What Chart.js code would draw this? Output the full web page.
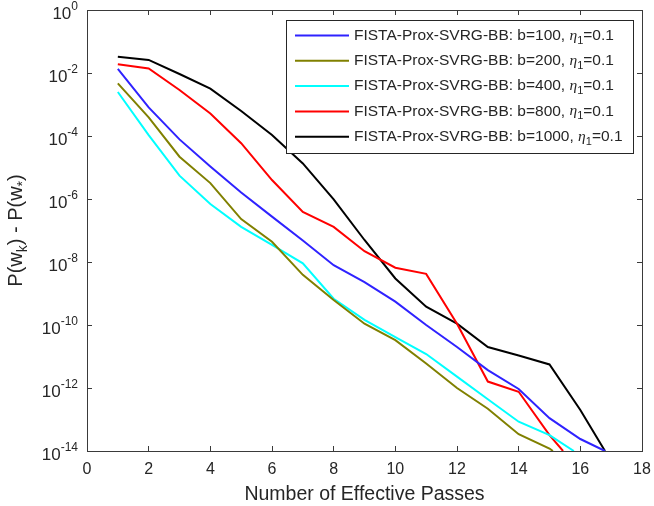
<!DOCTYPE html>
<html lang="en">
<head>
<meta charset="UTF-8">
<title>FISTA-Prox-SVRG-BB batch sizes</title>
<script src="https://cdn.jsdelivr.net/npm/chart.js"></script>
<style>
    body { margin: 0; background: #fff; }
    canvas { display: block; }
</style>
</head>
<body>
<canvas id="chart" width="654" height="506"></canvas>
<script>
    // values
    const batchSizes = [100, 200, 400, 800, 1000];
    const eta1 = '0.1';
    const colors = ['#2f22ff', '#808000', '#00ffff', '#ff0000', '#000000'];

    const passes100 = [1, 2, 3, 4, 5, 6, 7, 8, 9, 10, 11, 12, 13, 14, 15, 16, 16.8];
    const gap100 = [1.35e-2, 8.1e-4, 7.8e-5, 1.07e-5, 1.6e-6, 2.75e-7, 4.8e-8, 7.9e-9, 2.3e-9, 5.5e-10,
        1.0e-10, 2.0e-11, 3.7e-12, 9.3e-13, 1.1e-13, 2.4e-14, 1e-14];

    const passes200 = [1, 2, 3, 4, 5, 6, 7, 8, 9, 10, 11, 12, 13, 14, 15, 15.11];
    const gap200 = [4.7e-3, 3.9e-4, 2.2e-5, 3.2e-6, 2.3e-7, 4.4e-8, 3.9e-9, 6.2e-10, 1.1e-10, 3.3e-11,
        6.0e-12, 1.0e-12, 2.2e-13, 3.4e-14, 1.2e-14, 1e-14];

    const passes400 = [1, 2, 3, 4, 5, 6, 7, 8, 9, 10, 11, 12, 13, 14, 15, 15.79];
    const gap400 = [2.5e-3, 1.07e-4, 5.5e-6, 6.9e-7, 1.3e-7, 3.5e-8, 9.1e-9, 6.8e-10, 1.45e-10, 4.1e-11,
        1.2e-11, 2.3e-12, 4.4e-13, 8.5e-14, 3.2e-14, 1e-14];

    const passes800 = [1, 2, 3, 4, 5, 6, 7, 8, 9, 10, 11, 12, 13, 14, 15, 15.44];
    const gap800 = [1.9e-2, 1.4e-2, 2.9e-3, 5.2e-4, 5.9e-5, 4.0e-6, 3.9e-7, 1.3e-7, 2.2e-8, 6.6e-9,
        4.2e-9, 1.1e-10, 1.6e-12, 7.6e-13, 3.2e-14, 1e-14];

    const passes1000 = [1, 2, 3, 4, 5, 6, 7, 8, 9, 10, 11, 12, 13, 14, 15, 16, 16.8];
    const gap1000 = [3.3e-2, 2.6e-2, 9.3e-3, 3.2e-3, 6.2e-4, 1.07e-4, 1.35e-5, 9.8e-7, 5.0e-8, 3.0e-9,
        3.8e-10, 1.1e-10, 2.0e-11, 1.07e-11, 5.6e-12, 2.0e-13, 1e-14];

    const xTicks = [0, 2, 4, 6, 8, 10, 12, 14, 16, 18];
    const yTicks = [1, 1e-2, 1e-4, 1e-6, 1e-8, 1e-10, 1e-12, 1e-14];

    const allPasses = [passes100, passes200, passes400, passes800, passes1000];
    const allGaps = [gap100, gap200, gap400, gap800, gap1000];

    const FONT = "'Liberation Sans', Arial, Helvetica, sans-serif";
    const TEXT = '#262626';
    const AXIS = '#3a3a3a';

    const datasets = batchSizes.map((b, i) => ({
        label: 'FISTA-Prox-SVRG-BB: b=' + b + ', \u03b7\u2081=' + eta1,
        data: allPasses[i].map((p, j) => ({x: p, y: allGaps[i][j]})),
        borderColor: colors[i],
        backgroundColor: colors[i],
        borderWidth: 2,
        pointRadius: 0,
        tension: 0,
        fill: false
    }));

    // draws text pieces one after another, subscripts/superscripts shifted
    function drawPieces(ctx, pieces, x, y) {
        let cx = x;
        pieces.forEach(p => {
            ctx.font = p.font;
            ctx.fillText(p.text, cx, y + (p.dy || 0));
            cx += ctx.measureText(p.text).width;
        });
        return cx - x;
    }

    function piecesWidth(ctx, pieces) {
        let w = 0;
        pieces.forEach(p => {
            ctx.font = p.font;
            w += ctx.measureText(p.text).width;
        });
        return w;
    }

    const textPlugin = {
        id: 'matlabText',
        afterDraw(chart) {
            const ctx = chart.ctx;
            const area = chart.chartArea;
            const ys = chart.scales.y;
            const L = Math.round(area.left), R = Math.round(area.right);
            const T = Math.round(area.top), B = Math.round(area.bottom);

            ctx.save();

            // y tick labels 10^e
            ctx.fillStyle = TEXT;
            ctx.textBaseline = 'alphabetic';
            ctx.textAlign = 'left';
            yTicks.forEach(v => {
                const py = ys.getPixelForValue(v);
                const e = String(Math.round(Math.log10(v)));
                const pieces = [
                    {text: '10', font: '17px ' + FONT, dy: 9},
                    {text: e, font: '12px ' + FONT, dy: 0}
                ];
                const w = piecesWidth(ctx, pieces);
                drawPieces(ctx, pieces, L - 9 - w, py);
            });

            // x axis title
            ctx.font = '19.5px ' + FONT;
            ctx.textAlign = 'center';
            ctx.fillText('Number of Effective Passes', (L + R) / 2, 500);
            ctx.textAlign = 'left';

            // y axis title with subscripts
            ctx.save();
            ctx.translate(22, (T + B) / 2);
            ctx.rotate(-Math.PI / 2);
            const yt = [
                {text: 'P(w', font: '20px ' + FONT},
                {text: 'k', font: '14px ' + FONT, dy: 5},
                {text: ') - P(w', font: '20px ' + FONT},
                {text: '*', font: '14px ' + FONT, dy: 5},
                {text: ')', font: '20px ' + FONT}
            ];
            drawPieces(ctx, yt, -piecesWidth(ctx, yt) / 2, 0);
            ctx.restore();

            // legend box inside the top right corner
            const rowH = 25.3;
            const rows = batchSizes.map(b => [
                {text: 'FISTA-Prox-SVRG-BB: b=' + b + ', ', font: '15.5px ' + FONT},
                {text: '\u03b7', font: 'italic 15.5px "Liberation Serif", serif'},
                {text: '1', font: '11px ' + FONT, dy: 5},
                {text: '=' + eta1, font: '15.5px ' + FONT}
            ]);
            const textW = Math.max(...rows.map(r => piecesWidth(ctx, r)));
            const boxW = Math.round(9 + 54 + 5 + textW + 10);
            const boxH = Math.round(rowH * rows.length + 6);
            const bx = R - 9 - boxW;
            const by = T + 10;
            ctx.fillStyle = '#fff';
            ctx.fillRect(bx, by, boxW, boxH);
            ctx.fillStyle = TEXT;
            ctx.fillRect(bx, by, boxW, 1);
            ctx.fillRect(bx, by + boxH, boxW + 1, 1);
            ctx.fillRect(bx, by, 1, boxH);
            ctx.fillRect(bx + boxW, by, 1, boxH);
            ctx.textBaseline = 'middle';
            rows.forEach((r, i) => {
                const cy = by + 15.5 + i * rowH;
                ctx.strokeStyle = colors[i];
                ctx.lineWidth = 2;
                ctx.beginPath();
                ctx.moveTo(bx + 9, cy);
                ctx.lineTo(bx + 63, cy);
                ctx.stroke();
                ctx.fillStyle = TEXT;
                drawPieces(ctx, r, bx + 68, cy);
            });
            ctx.restore();
        }
    };

    // MATLAB-like box: border on all four sides, short ticks pointing inward
    const boxGrid = {display: true, drawOnChartArea: false, drawTicks: true, tickLength: -5, color: AXIS, lineWidth: 1};
    const boxBorder = {display: true, color: AXIS, width: 1};
    const setXTicks = s => { s.ticks = xTicks.map(v => ({value: v})); };
    const setYTicks = s => { s.ticks = yTicks.map(v => ({value: v})); };

    new Chart(document.getElementById('chart'), {
        type: 'line',
        data: {datasets: datasets},
        options: {
            responsive: false,
            animation: false,
            layout: {padding: {top: 10, right: 12, left: 0, bottom: 0}},
            plugins: {
                legend: {display: false},
                tooltip: {enabled: false}
            },
            scales: {
                x: {
                    type: 'linear', position: 'bottom', min: 0, max: 18,
                    afterBuildTicks: setXTicks,
                    ticks: {color: TEXT, font: {family: FONT, size: 16}, padding: 14, maxRotation: 0},
                    grid: boxGrid,
                    border: boxBorder,
                    afterFit: s => { s.height = 55; s.paddingLeft = 0; s.paddingRight = 0; }
                },
                x2: {
                    type: 'linear', position: 'top', min: 0, max: 18,
                    afterBuildTicks: setXTicks,
                    ticks: {display: false},
                    grid: boxGrid,
                    border: boxBorder,
                    afterFit: s => { s.height = 0; s.paddingLeft = 0; s.paddingRight = 0; }
                },
                y: {
                    type: 'logarithmic', position: 'left', min: 1e-14, max: 1,
                    afterBuildTicks: setYTicks,
                    ticks: {display: false},
                    grid: boxGrid,
                    border: boxBorder,
                    afterFit: s => { s.width = 87; s.paddingTop = 0; s.paddingBottom = 0; }
                },
                y2: {
                    type: 'logarithmic', position: 'right', min: 1e-14, max: 1,
                    afterBuildTicks: setYTicks,
                    ticks: {display: false},
                    grid: boxGrid,
                    border: boxBorder,
                    afterFit: s => { s.width = 0; s.paddingTop = 0; s.paddingBottom = 0; }
                }
            }
        },
        plugins: [textPlugin]
    });
</script>
</body>
</html>
